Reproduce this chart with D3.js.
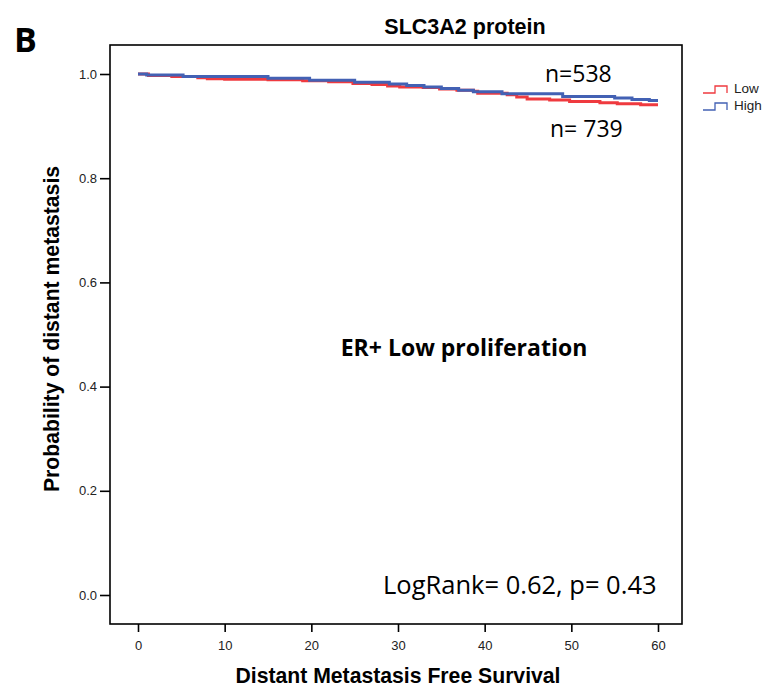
<!DOCTYPE html>
<html>
<head>
<meta charset="utf-8">
<script src="https://cdn.jsdelivr.net/npm/d3@7"></script>
<style>
  body { margin: 0; background: #fff; }
  svg { display: block; }
</style>
</head>
<body>
<div class="chart"></div>
<script>
// step times (months) and survival values
var lowTimes  = [0, 1.2, 3.9, 6.9, 8, 10, 15, 19, 22, 24.8, 27, 28.8, 30.2, 32.9, 34.8, 36.8, 38.7, 39.2, 42.6, 43.7, 44.9, 47.5, 49.8, 53.3, 55.3, 58, 60];
var lowSurv   = [1.0, 0.997, 0.995, 0.993, 0.991, 0.990, 0.989, 0.987, 0.985, 0.982, 0.980, 0.977, 0.975, 0.974, 0.971, 0.969, 0.967, 0.963, 0.960, 0.956, 0.952, 0.950, 0.947, 0.945, 0.943, 0.941, 0.941];
var highTimes = [0, 1.0, 5.2, 15, 19.8, 25, 29, 31, 33, 35, 37, 38.7, 42, 49, 55, 57, 59, 60];
var highSurv  = [1.0, 0.998, 0.995, 0.992, 0.988, 0.984, 0.981, 0.978, 0.975, 0.972, 0.969, 0.966, 0.962, 0.957, 0.954, 0.951, 0.949, 0.949];

var xTicks = [0, 10, 20, 30, 40, 50, 60];
var yTicks = [0.0, 0.2, 0.4, 0.6, 0.8, 1.0];

var seriesNames = ["Low", "High"];
var seriesColors = ["#ef3a3f", "#4361b4"];

var w = 768, h = 688;
// frame box
var fx0 = 110, fx1 = 682, fy0 = 45, fy1 = 624;

var svg = d3.select(".chart").append("svg")
    .attr("width", w)
    .attr("height", h);

var x = d3.scaleLinear().domain([0, 60]).range([138, 658]);
var y = d3.scaleLinear().domain([0, 1]).range([595, 74]);

// frame
svg.append("rect")
    .attr("x", fx0).attr("y", fy0)
    .attr("width", fx1 - fx0).attr("height", fy1 - fy0)
    .attr("fill", "none").attr("stroke", "#000").attr("stroke-width", 1.6);

// axes
var xAxis = d3.axisBottom(x).tickValues(xTicks).tickSize(8).tickFormat(d3.format("d"));
var gx = svg.append("g").attr("transform", "translate(0," + fy1 + ")").call(xAxis);
gx.select(".domain").remove();

var yAxis = d3.axisLeft(y).tickValues(yTicks).tickSize(10).tickFormat(d3.format(".1f"));
var gy = svg.append("g").attr("transform", "translate(" + fx0 + ",0)").call(yAxis);
gy.select(".domain").remove();

svg.selectAll(".tick line").attr("stroke", "#000").attr("stroke-width", 1.6);
svg.selectAll(".tick text")
    .attr("font-family", "Liberation Sans, Arial, sans-serif")
    .attr("font-size", 13)
    .attr("fill", "#222");
gx.selectAll(".tick text").attr("dy", "1.15em");
gy.selectAll(".tick text").attr("x", -13);

// survival curves
var line = d3.line()
    .x(function (d) { return x(d[0]); })
    .y(function (d) { return y(d[1]); })
    .curve(d3.curveStepAfter);

var series = [
    d3.zip(lowTimes, lowSurv),
    d3.zip(highTimes, highSurv)
];

svg.selectAll("path.km")
    .data(series)
    .enter()
    .append("path")
    .attr("class", "km")
    .attr("d", line)
    .attr("fill", "none")
    .attr("stroke", function (d, i) { return seriesColors[i]; })
    .attr("stroke-width", 3);

// legend
var leg = svg.selectAll("g.leg")
    .data(seriesNames)
    .enter()
    .append("g")
    .attr("class", "leg")
    .attr("transform", function (d, i) { return "translate(703," + (93 + i * 17) + ")"; });

leg.append("path")
    .attr("d", "M0,0 H12 V-7 H24 V0")
    .attr("fill", "none")
    .attr("stroke", function (d, i) { return seriesColors[i]; })
    .attr("stroke-width", 1.3);

leg.append("text")
    .attr("x", 31).attr("y", 0)
    .attr("font-family", "Liberation Sans, Arial, sans-serif")
    .attr("font-size", 13.5)
    .attr("fill", "#222")
    .text(function (d) { return d; });

// titles
svg.append("text")
    .attr("x", 14).attr("y", 52)
    .attr("font-family", "Open Sans, sans-serif")
    .attr("font-weight", "bold")
    .attr("font-size", 34)
    .text("B");

svg.append("text")
    .attr("x", 465).attr("y", 34)
    .attr("text-anchor", "middle")
    .attr("font-family", "Liberation Sans, Arial, sans-serif")
    .attr("font-weight", "bold")
    .attr("font-size", 21.5)
    .text("SLC3A2 protein");

svg.append("text")
    .attr("transform", "translate(59,329) rotate(-90)")
    .attr("text-anchor", "middle")
    .attr("font-family", "Liberation Sans, Arial, sans-serif")
    .attr("font-weight", "bold")
    .attr("font-size", 21.2)
    .text("Probability of distant metastasis");

svg.append("text")
    .attr("x", 398).attr("y", 683)
    .attr("text-anchor", "middle")
    .attr("font-family", "Liberation Sans, Arial, sans-serif")
    .attr("font-weight", "bold")
    .attr("font-size", 21.2)
    .text("Distant Metastasis Free Survival");

// annotations
var annFont = "Open Sans, sans-serif";
svg.append("text")
    .attr("x", 545).attr("y", 82)
    .attr("font-family", annFont).attr("font-size", 23)
    .text("n=538");

svg.append("text")
    .attr("x", 550).attr("y", 137)
    .attr("font-family", annFont).attr("font-size", 23)
    .text("n= 739");

svg.append("text")
    .attr("x", 464).attr("y", 356)
    .attr("text-anchor", "middle")
    .attr("font-family", annFont).attr("font-weight", "bold").attr("font-size", 23)
    .text("ER+ Low proliferation");

svg.append("text")
    .attr("x", 383).attr("y", 594)
    .attr("font-family", annFont).attr("font-size", 25.5)
    .text("LogRank= 0.62, p= 0.43");
</script>
</body>
</html>
